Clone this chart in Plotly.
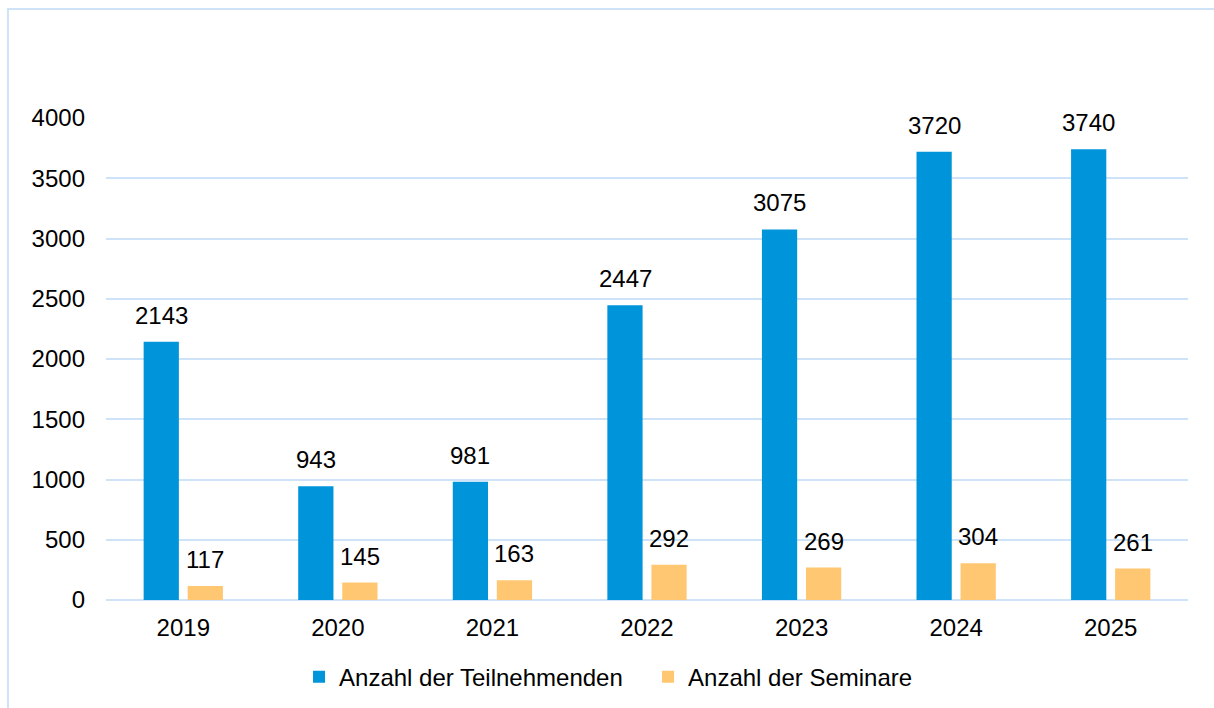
import plotly.graph_objects as go

years = ["2019", "2020", "2021", "2022", "2023", "2024", "2025"]
teilnehmende = [2143, 943, 981, 2447, 3075, 3720, 3740]
seminare = [117, 145, 163, 292, 269, 304, 261]
y_ticks = [0, 500, 1000, 1500, 2000, 2500, 3000, 3500, 4000]

BLUE = "#0095DA"
ORANGE = "#FFC771"
GRID = "#CFE3F8"
FONT = "Arial, Liberation Sans, sans-serif"
FS = 24

fig = go.Figure()
fig.add_trace(go.Bar(x=years, y=teilnehmende, name="Anzahl der Teilnehmenden",
                     marker=dict(color=BLUE, line=dict(width=0))))
fig.add_trace(go.Bar(x=years, y=seminare, name="Anzahl der Seminare",
                     marker=dict(color=ORANGE, line=dict(width=0))))

annotations = []
for xs, vals in ((-22, teilnehmende), (22, seminare)):
    for i, v in enumerate(vals):
        annotations.append(dict(x=i, y=v, xref="x", yref="y", text=str(v), showarrow=False,
                                xanchor="center", yanchor="bottom",
                                xshift=xs, yshift=11,
                                font=dict(family=FONT, size=FS, color="#000000")))

fig.update_layout(
    width=1214, height=708,
    margin=dict(l=106, r=26, t=118, b=108, autoexpand=False),
    paper_bgcolor="white", plot_bgcolor="white",
    barmode="group", bargap=0.43, bargroupgap=0.2,
    font=dict(family=FONT, size=FS, color="#000000"),
    showlegend=True,
    legend=dict(orientation="h", x=0.1784, xanchor="left", y=-0.16, yanchor="middle",
                entrywidth=304, entrywidthmode="pixels",
                font=dict(family=FONT, size=FS, color="#000000"),
                bgcolor="rgba(0,0,0,0)"),
    annotations=annotations,
    shapes=[dict(type="rect", xref="paper", yref="paper",
                 x0=-0.0906, x1=1.2, y0=-0.4, y1=1.226,
                 line=dict(color=GRID, width=2), fillcolor="rgba(0,0,0,0)",
                 layer="below")],
)
fig.update_xaxes(type="category", categoryorder="array", categoryarray=years,
                 range=[-0.5, len(years) - 0.5],
                 showgrid=False, showline=False, ticks="", zeroline=False,
                 tickfont=dict(family=FONT, size=FS, color="#000000"),
                 ticklabelstandoff=11)
fig.update_yaxes(range=[0, 4000], tickvals=y_ticks, showgrid=True, gridcolor=GRID,
                 gridwidth=2, zeroline=True, zerolinecolor=GRID, zerolinewidth=2,
                 showline=False, ticks="", ticklabelstandoff=20,
                 tickfont=dict(family=FONT, size=FS, color="#000000"))

fig.write_html("out.html", config={"displayModeBar": False},
               post_script="document.body.style.margin='0';document.body.style.overflow='hidden';")
